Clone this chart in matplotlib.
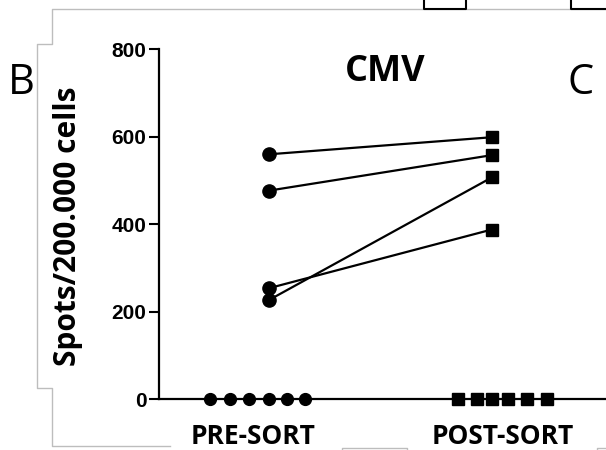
import matplotlib.pyplot as plt
from matplotlib.lines import Line2D

W, H = 606, 450

# paired samples (pre -> post), spots / 200.000 cells
pre_vals = [560, 477, 227, 254]
post_vals = [599, 558, 507, 388]

# samples with no spots
pre_zero = [0, 0, 0, 0, 0, 0]
post_zero = [0, 0, 0, 0, 0, 0]

groups = ['PRE-SORT', 'POST-SORT']
yticks = [0, 200, 400, 600, 800]

# horizontal spread of the zero points around each group
pre_zero_dx = [-0.265, -0.175, -0.088, 0, 0.079, 0.162]
post_zero_dx = [-0.150, -0.067, 0, 0.075, 0.157, 0.247]

fig = plt.figure(figsize=(W / 100, H / 100), dpi=100)
ax = fig.add_axes([159 / W, 1 - 399.3 / H, 1 - 159 / W, 350 / H])

for a, b in zip(pre_vals, post_vals):
    ax.plot([0, 1], [a, b], color='black', lw=1.6, zorder=2)
ax.plot([0] * len(pre_vals), pre_vals, 'o', color='black', ms=9.5, zorder=3)
ax.plot([1] * len(post_vals), post_vals, 's', color='black', ms=9, zorder=3)

ax.plot(pre_zero_dx, pre_zero, 'o', color='black', ms=8.5, clip_on=False, zorder=3)
ax.plot([1 + d for d in post_zero_dx], post_zero, 's', color='black', ms=8.5,
        clip_on=False, zorder=3)

ax.set_xlim(-0.494, 1.513)
ax.set_ylim(0, 800)
ax.set_yticks(yticks)
ax.set_yticklabels([str(v) for v in yticks], family='Liberation Sans',
                   fontweight='bold', fontsize=15)
ax.tick_params(axis='y', length=7, width=1.5, pad=2, color='black')
ax.set_xticks([-0.072, 1.048])
ax.set_xticklabels(groups, family='Open Sans', fontweight='bold', fontsize=19)
ax.tick_params(axis='x', length=0, pad=17)

for s in ['top', 'right']:
    ax.spines[s].set_visible(False)
for s in ['left', 'bottom']:
    ax.spines[s].set_linewidth(1.6)

fig.text(385 / W, 1 - 72 / H, 'CMV', family='Open Sans', fontweight='bold',
         fontsize=26, ha='center', va='center')
fig.text(68 / W, 1 - 226 / H, 'Spots/200.000 cells', family='Open Sans',
         fontweight='bold', fontsize=21.5, rotation=90, ha='center', va='center')
fig.text(21.7 / W, 1 - 83 / H, 'B', family='Open Sans', fontsize=30,
         ha='center', va='center')
fig.text(581 / W, 1 - 83.5 / H, 'C', family='Open Sans', fontsize=30,
         ha='center', va='center')

# gray page border and boxes from the screenshot
def px_line(xs, ys, color='#bdbdbd', lw=1):
    fig.add_artist(Line2D([x / W for x in xs], [1 - y / H for y in ys],
                          transform=fig.transFigure, color=color, lw=lw))

px_line([606, 52, 52, 37, 37, 52, 52, 170], [8.5, 8.5, 44, 44, 388, 388, 446, 446])
px_line([342, 342, 407, 407], [452, 447.5, 447.5, 452])
px_line([597, 597, 606], [452, 447.5, 447.5])
px_line([424, 424, 465.5, 465.5], [0, 8.5, 8.5, 0], color='black', lw=1.5)
px_line([570.5, 570.5, 606], [0, 8.5, 8.5], color='black', lw=1.5)

fig.savefig('out.png', dpi=100)
